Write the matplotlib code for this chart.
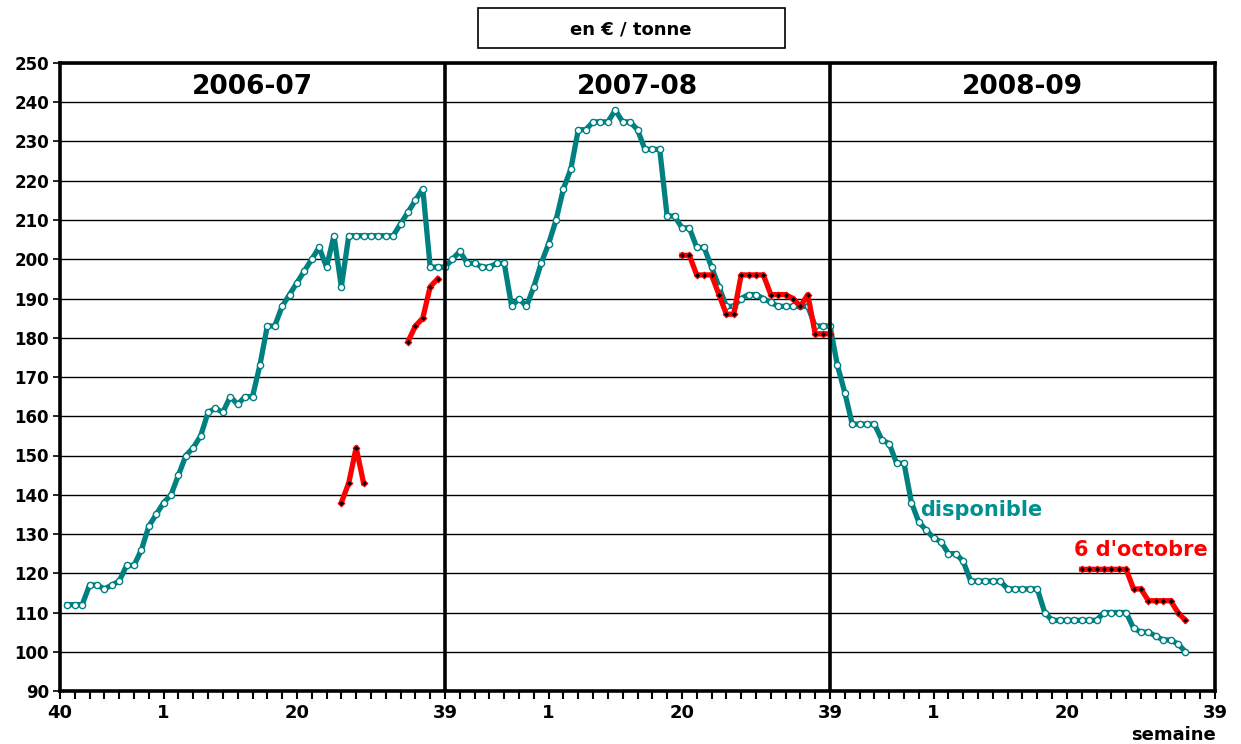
import numpy as np
import matplotlib
matplotlib.use("Agg")
import matplotlib.pyplot as plt
from matplotlib.patches import Rectangle

# ====== DATA ================================================================
# week index: 0 = week 40 of 2006, one step per week, 52 weeks per season
seasons = ["2006-07", "2007-08", "2008-09"]
week_ticks = [0, 14, 32, 52, 66, 84, 104, 118, 136, 156]
week_labels = ["40", "1", "20", "39", "1", "20", "39", "1", "20", "39"]

# "disponible" (spot price), weekly, from week index 1
dispo_0607 = [112, 112, 112, 117, 117, 116, 117, 118, 122, 122, 126, 132, 135,
              138, 140, 145, 150, 152, 155, 161, 162, 161, 165, 163, 165, 165,
              173, 183, 183, 188, 191, 194, 197, 200, 203, 198, 206, 193, 206,
              206, 206, 206, 206, 206, 206, 209, 212, 215, 218, 198, 198, 198]
dispo_0708 = [200, 202, 199, 199, 198, 198, 199, 199, 188, 190, 188, 193, 199,
              204, 210, 218, 223, 233, 233, 235, 235, 235, 238, 235, 235, 233,
              228, 228, 228, 211, 211, 208, 208, 203, 203, 198, 193, 188, 188,
              190, 191, 191, 190, 189, 188, 188, 188, 188, 188, 183, 183, 183]
dispo_0809 = [173, 166, 158, 158, 158, 158, 154, 153, 148, 148, 138, 133, 131,
              129, 128, 125, 125, 123, 118, 118, 118, 118, 118, 116, 116, 116,
              116, 116, 110, 108, 108, 108, 108, 108, 108, 108, 110, 110, 110,
              110, 106, 105, 105, 104, 103, 103, 102, 100]
dispo_start = 1

# "6 d'octobre" (October delivery), separate stretches
oct_starts = [38, 47, 84, 138]
oct_values = [
    [138, 143, 152, 143],
    [179, 183, 185, 193, 195],
    [201, 201, 196, 196, 196, 191, 186, 186, 196, 196, 196, 196, 191, 191,
     191, 190, 188, 191, 181, 181, 181],
    [121, 121, 121, 121, 121, 121, 121, 116, 116, 113, 113, 113, 113, 110, 108],
]
# ============================================================================

teal = "#008080"
red = "#ff0000"

fig = plt.figure(figsize=(12.41, 7.44), dpi=100)
ax = fig.add_axes([60 / 1241, 53 / 744, 1155 / 1241, 628 / 744])

dispo = dispo_0607 + dispo_0708 + dispo_0809
x_dispo = np.arange(dispo_start, dispo_start + len(dispo))
ax.plot(x_dispo, dispo, "-o", color=teal, lw=3.8, ms=4.5,
        mfc="white", mec=teal, mew=1.0, zorder=3)

for start, vals in zip(oct_starts, oct_values):
    xs = np.arange(start, start + len(vals))
    ax.plot(xs, vals, "-D", color=red, lw=3.8, ms=3.4,
            mfc="black", mec=red, mew=0.8, zorder=4)

ax.set_xlim(0, 156)
ax.set_ylim(90, 250)

# horizontal grid
ax.set_yticks(np.arange(90, 251, 10))
ax.yaxis.grid(True, color="black", lw=1.0)
ax.set_axisbelow(True)

# season separators and labels
for i, name in enumerate(seasons):
    if i > 0:
        ax.axvline(52 * i, color="black", lw=2.6, zorder=5)
    ax.text(52 * i + 26, 244, name, ha="center", va="center",
            fontsize=19, fontweight="bold")

for s in ax.spines.values():
    s.set_linewidth(2.6)

ax.set_xticks(week_ticks)
ax.set_xticklabels(week_labels)
ax.set_xticks(np.arange(0, 157, 2), minor=True)
ax.tick_params(axis="x", which="both", direction="out", length=6, width=1.5,
               labelsize=13, pad=3)
ax.tick_params(axis="y", direction="out", length=5, width=1.2,
               labelsize=12, pad=3)
for lab in ax.get_xticklabels() + ax.get_yticklabels():
    lab.set_fontweight("bold")

ax.text(124.4, 136, "disponible", color="#009090", fontsize=15,
        fontweight="bold", ha="center", va="center")
ax.text(146, 126, "6 d'octobre", color=red, fontsize=15,
        fontweight="bold", ha="center", va="center")

fig.text(1174 / 1241, 1 - 735 / 744, "semaine", fontsize=13,
         fontweight="bold", ha="center", va="center")

fig.add_artist(Rectangle((478 / 1241, 1 - 48 / 744), 307 / 1241, 40 / 744,
                         transform=fig.transFigure, fc="white", ec="black",
                         lw=1.2))
fig.text(631 / 1241, 1 - 29 / 744, "en \u20ac / tonne", fontsize=13,
         fontweight="bold", ha="center", va="center")

fig.savefig("out.png", dpi=100)
